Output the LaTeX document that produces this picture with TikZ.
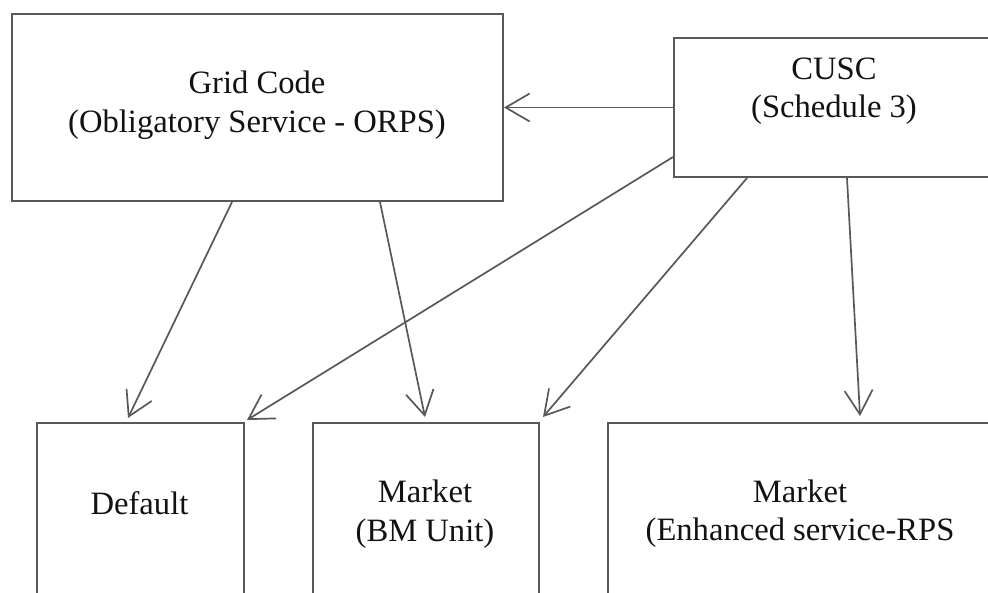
\documentclass[tikz,border=0pt]{standalone}
\usepackage{fontspec}
\setmainfont{Liberation Serif}
\usetikzlibrary{arrows.meta}
\definecolor{edge}{RGB}{88,88,92}
\definecolor{ink}{RGB}{18,18,18}
\begin{document}
\begin{tikzpicture}[x=1pt,y=-1pt,
  box/.style={draw=edge,line width=2pt,rectangle,inner sep=0pt,anchor=north west,fill=white},
  lbl/.style={text=ink,inner sep=0pt,anchor=base,font=\fontsize{32.6}{39}\selectfont},
  link/.style={draw=edge,line width=1.7pt,-{Straight Barb[length=24pt,width=28pt,line width=1.7pt]}}]
  \fill[white] (0,0) rectangle (988,592);
  \clip (0,0) rectangle (988,592);

  % boxes
  \node[box,minimum width=491pt,minimum height=187pt] (grid) at (11,13) {};
  \node[box,minimum width=320pt,minimum height=139pt] (cusc) at (673,37) {};
  \node[box,minimum width=207pt,minimum height=260pt] (dflt) at (36,422) {};
  \node[box,minimum width=226pt,minimum height=260pt] (bm) at (312,422) {};
  \node[box,minimum width=386pt,minimum height=260pt] (enh) at (607,422) {};

  % box texts
  \node[lbl] (gridA) at (257,93) {Grid Code};
  \node[lbl] (gridB) at (257,132) {(Obligatory Service - ORPS)};
  \node[lbl] (cuscA) at (834,79) {CUSC};
  \node[lbl] (cuscB) at (834,117) {(Schedule 3)};
  \node[lbl] (dfltA) at (139.5,514) {Default};
  \node[lbl] (bmA) at (425,502) {Market};
  \node[lbl] (bmB) at (425,541) {(BM Unit)};
  \node[lbl] (enhA) at (800,502) {Market};
  \node[lbl] (enhB) at (800,540) {(Enhanced service-RPS};

  % connectors
  \draw[link] (cusc.west) -- (grid.east);
  \draw[link] ([xshift=221pt]grid.south west) -- ([xshift=92pt,yshift=4pt]dflt.north west);
  \draw[link] ([xshift=369pt]grid.south west) -- ([xshift=113pt,yshift=5pt]bm.north west);
  \draw[link] ([yshift=21pt]cusc.south west) -- ([xshift=2pt,yshift=2pt]dflt.north east);
  \draw[link] ([xshift=74pt]cusc.south west) -- ([xshift=3pt,yshift=5pt]bm.north east);
  \draw[link] ([xshift=174pt]cusc.south west) -- ([xshift=253pt,yshift=6pt]enh.north west);
\end{tikzpicture}
\end{document}
